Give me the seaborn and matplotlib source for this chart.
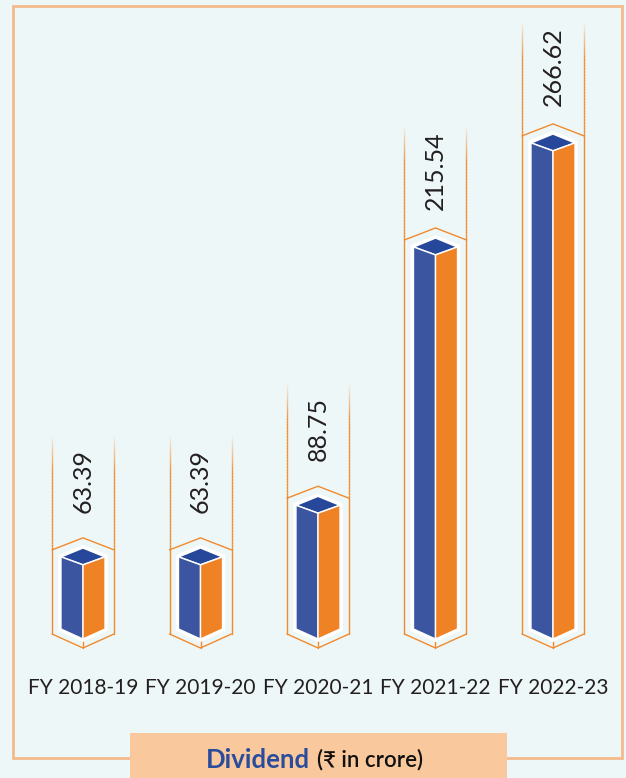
import numpy as np
import pandas as pd
import matplotlib
matplotlib.use("Agg")
import matplotlib.pyplot as plt
import seaborn as sns
from matplotlib.patches import Polygon, Rectangle
from matplotlib.collections import LineCollection

years = ["FY 2018-19", "FY 2019-20", "FY 2020-21", "FY 2021-22", "FY 2022-23"]
dividend = [63.39, 63.39, 88.75, 215.54, 266.62]

BG = "#eef7f7"
BLUE = "#3c55a0"
BLUE_TOP = "#26479a"
ORANGE = "#f08226"
LINE = "#f08a2e"
FRAME = "#f4b98c"
BOX = "#f9c89c"
TXT = "#231f20"
FLOOR = 27.0   # bars in the source artwork start above zero

sns.set_theme(style="white")
plt.rcParams["font.family"] = ["Lato", "DejaVu Sans"]

fig = plt.figure(figsize=(6.26, 7.78), dpi=100)
fig.patch.set_facecolor(BG)
ax = fig.add_axes([0, 0, 1, 1])

df = pd.DataFrame({"year": years, "dividend": dividend})
sns.barplot(data=df, x="year", y="dividend", color=BLUE, width=0.375, ax=ax)
ax.set_xlim(-0.7064, 4.6213)
ax.set_ylim(-41.24, 340.7)
ax.axis("off")


def shift(x, y, dx=0.0, dy=0.0):
    # move a data point by a pixel offset (dy positive = up)
    d = ax.transData.transform((x, y)) + np.array([dx, dy])
    return tuple(ax.transData.inverted().transform(d))


bars = list(ax.patches)
for p, v in zip(bars, dividend):
    c = p.get_x() + p.get_width() / 2
    top = p.get_height()
    w = (ax.transData.transform((p.get_width(), 0))[0] - ax.transData.transform((0, 0))[0]) / 2
    p.remove()

    # 3d bar
    silhouette = [shift(c, top, -w, 8), shift(c, top, 0, 17), shift(c, top, w, 8),
                  shift(c, FLOOR, w, 10), shift(c, FLOOR), shift(c, FLOOR, -w, 10)]
    ax.add_patch(Polygon(silhouette, closed=True, fc="white", ec="white", lw=4, zorder=2))
    top_face = [shift(c, top, 0, 17), shift(c, top, w, 8), shift(c, top), shift(c, top, -w, 8)]
    front = [shift(c, top, -w, 8), shift(c, top), shift(c, FLOOR), shift(c, FLOOR, -w, 10)]
    side = [shift(c, top), shift(c, top, w, 8), shift(c, FLOOR, w, 10), shift(c, FLOOR)]
    ax.add_patch(Polygon(top_face, closed=True, fc=BLUE_TOP, ec="white", lw=1.2, zorder=3))
    ax.add_patch(Polygon(front, closed=True, fc=BLUE, ec="white", lw=1.0, zorder=3))
    ax.add_patch(Polygon(side, closed=True, fc=ORANGE, ec="white", lw=1.0, zorder=3))

    # hexagon outline
    hx = 31
    chevron = [shift(c, top, -hx, 15), shift(c, top, 0, 27), shift(c, top, hx, 15)]
    ax.plot(*zip(*chevron), color=LINE, lw=1.0, zorder=1)
    vee = [shift(c, FLOOR, -hx, 5), shift(c, FLOOR, 0, -9), shift(c, FLOOR, hx, 5)]
    ax.plot(*zip(*vee), color=LINE, lw=1.0, zorder=1)
    ax.plot(*zip(shift(c, FLOOR), shift(c, FLOOR, 0, -9)), color=LINE, lw=1.0, zorder=1)

    # tall side guides, fading at the top
    for sx in (-hx, hx):
        y0 = shift(c, FLOOR, sx, 5)
        y1 = shift(c, top, sx, 15)
        y_top = shift(c, top, sx, 132)
        ax.plot([y0[0], y1[0]], [y0[1], y1[1]], color=LINE, lw=1.0, zorder=1)
        ys = np.linspace(y1[1], y_top[1], 40)
        segs = [[(y0[0], ys[k]), (y0[0], ys[k + 1])] for k in range(len(ys) - 1)]
        alphas = np.clip(np.linspace(3.0, 0.0, len(segs)), 0, 1)
        cols = [matplotlib.colors.to_rgba(LINE, a) for a in alphas]
        ax.add_collection(LineCollection(segs, colors=cols, lw=1.0, zorder=1))

    lx, ly = shift(c, top, 0, 84)
    ax.text(lx, ly, f"{v:.2f}", rotation=90, ha="center", va="center",
            fontsize=18, fontweight="normal", color=TXT, zorder=4)

for i, lab in enumerate(years):
    ax.text(i, 1 - 688 / 778, lab, transform=ax.get_xaxis_transform(),
            ha="center", va="center", fontsize=15, fontweight="normal", color=TXT)

# outer frame and caption box
fig.add_artist(Rectangle((13 / 626, 20 / 778), 609 / 626, 752 / 778, transform=fig.transFigure,
                         fill=False, ec=FRAME, lw=2, zorder=5))
fig.add_artist(Rectangle((130 / 626, 0), 377 / 626, 45 / 778, transform=fig.transFigure,
                         fc=BOX, ec="none", zorder=6))
fig.text(310 / 626, 1 - 760 / 778, "Dividend", ha="right", va="center", fontsize=18.5,
         fontweight="bold", color="#2a4c9c", zorder=7)
fig.text(317 / 626, 1 - 760 / 778, "(₹ in crore)", ha="left", va="center", fontsize=16,
         fontweight="semibold", color="#111111", zorder=7)

fig.savefig("out.png", dpi=100, facecolor=BG)
